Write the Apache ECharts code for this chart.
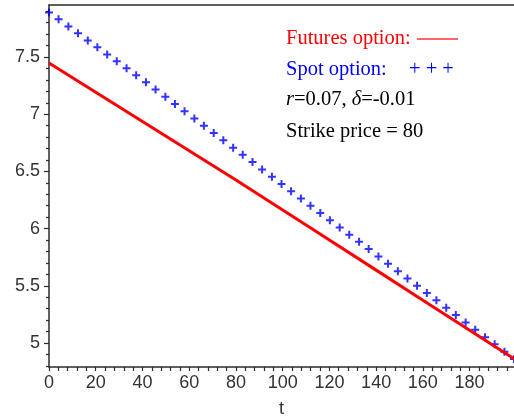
<!DOCTYPE html>
<html>
<head>
<meta charset="utf-8">
<style>
  html, body { margin: 0; padding: 0; background: #fff; }
  #chart { width: 514px; height: 418px; }
</style>
<script src="https://cdn.jsdelivr.net/npm/echarts@6/dist/echarts.min.js"></script>
</head>
<body>
<div id="chart"></div>
<script>
// Futures option price: sampled along t
const futuresT = [0, 20, 40, 60, 80, 100, 120, 140, 160, 180, 199];
const futuresPrice = [7.448, 7.192, 6.936, 6.681, 6.425, 6.162, 5.900, 5.637, 5.374, 5.112, 4.862];

// Spot option price: plotted as points
const spotT = [0, 4.1, 8.3, 12.4, 16.6, 20.7, 24.9, 29.0, 33.2, 37.3, 41.5, 45.6, 49.8, 53.9, 58.0,
  62.2, 66.3, 70.5, 74.6, 78.8, 82.9, 87.1, 91.2, 95.4, 99.5, 103.6, 107.8, 111.9, 116.1, 120.2,
  124.4, 128.5, 132.7, 136.8, 141.0, 145.1, 149.3, 153.4, 157.5, 161.7, 165.8, 170.0, 174.1,
  178.3, 182.4, 186.6, 190.7, 194.9, 199.0];
const spotPrice = [7.890, 7.830, 7.768, 7.707, 7.645, 7.585, 7.523, 7.463, 7.401, 7.341, 7.279,
  7.216, 7.152, 7.089, 7.026, 6.962, 6.899, 6.835, 6.772, 6.708, 6.645, 6.582, 6.517, 6.453,
  6.390, 6.327, 6.263, 6.200, 6.136, 6.073, 6.009, 5.946, 5.884, 5.821, 5.756, 5.692, 5.627,
  5.564, 5.501, 5.436, 5.373, 5.308, 5.244, 5.180, 5.116, 5.051, 4.988, 4.923, 4.860];

// Axis ticks and labels
const xLabels = [0, 20, 40, 60, 80, 100, 120, 140, 160, 180];
const xTicks = [0, 4, 8, 12, 16, 20, 24, 28, 32, 36, 40, 44, 48, 52, 56, 60, 64, 68, 72, 76, 80,
  84, 88, 92, 96, 100, 104, 108, 112, 116, 120, 124, 128, 132, 136, 140, 144, 148, 152, 156,
  160, 164, 168, 172, 176, 180, 184, 188, 192, 196];
const yLabels = [5, 5.5, 6, 6.5, 7, 7.5];
const yMinorTicks = [4.8, 4.9, 5.1, 5.2, 5.3, 5.4, 5.6, 5.7, 5.8, 5.9, 6.1, 6.2, 6.3, 6.4,
  6.6, 6.7, 6.8, 6.9, 7.1, 7.2, 7.3, 7.4, 7.6, 7.7, 7.8, 7.9];

const X_MIN = 0, X_MAX = 199;
const Y_MIN = 4.79, Y_MAX = 7.955;

const axisColor = '#2b2b2b';
const labelFont = { fontFamily: 'Liberation Sans', fontSize: 18, color: '#333' };
const serif = 'Liberation Serif';
const noteFont = '20.5px "' + serif + '"';

const chart = echarts.init(document.getElementById('chart'));

chart.setOption({
  animation: false,
  backgroundColor: '#fff',
  grid: { left: 49, right: 0, top: 5, bottom: 51, containLabel: false, outerBoundsMode: 'none' },
  xAxis: [
    {
      type: 'value', min: X_MIN, max: X_MAX, position: 'bottom',
      name: 't', nameLocation: 'middle', nameGap: 33,
      nameTextStyle: { fontFamily: 'Liberation Sans', fontSize: 18, color: '#333' },
      axisLine: { show: true, lineStyle: { color: axisColor, width: 1.5 } },
      axisTick: { show: true, customValues: xTicks, length: 4, inside: false,
        lineStyle: { color: axisColor, width: 1.2 } },
      axisLabel: { customValues: xLabels, margin: 7, ...labelFont },
      splitLine: { show: false }
    },
    {
      type: 'value', min: X_MIN, max: X_MAX, position: 'top',
      axisLine: { show: true, lineStyle: { color: axisColor, width: 1.5 } },
      axisTick: { show: false }, axisLabel: { show: false }, splitLine: { show: false }
    }
  ],
  yAxis: [
    {
      type: 'value', min: Y_MIN, max: Y_MAX, position: 'left',
      axisLine: { show: true, lineStyle: { color: axisColor, width: 1.5 } },
      axisTick: { show: true, customValues: yLabels, length: 5,
        lineStyle: { color: axisColor, width: 1.2 } },
      axisLabel: { customValues: yLabels, margin: 9, ...labelFont },
      splitLine: { show: false }
    },
    {
      type: 'value', min: Y_MIN, max: Y_MAX, position: 'left',
      axisLine: { show: false },
      axisTick: { show: true, customValues: yMinorTicks, length: 3,
        lineStyle: { color: axisColor, width: 1.2 } },
      axisLabel: { show: false },
      splitLine: { show: false }
    }
  ],
  series: [
    {
      name: 'Futures option', type: 'line',
      data: futuresT.map((t, i) => [t, futuresPrice[i]]),
      showSymbol: false, symbol: 'none', clip: true,
      lineStyle: { color: '#ff0000', width: 3 }
    },
    {
      name: 'Spot option', type: 'scatter',
      data: spotT.map((t, i) => [t, spotPrice[i]]),
      symbol: 'path://M3,0H5V3H8V5H5V8H3V5H0V3H3Z', symbolSize: 8,
      itemStyle: { color: '#0000ff' }, clip: true
    }
  ],
  graphic: [
    { type: 'text', left: 286, top: 28,
      style: { text: 'Futures option:', font: noteFont, fill: '#ff0000' } },
    { type: 'line', shape: { x1: 417, y1: 39, x2: 458, y2: 39 },
      style: { stroke: '#ff3333', lineWidth: 1.6 } },
    { type: 'text', left: 286, top: 59,
      style: { text: 'Spot option:', font: noteFont, fill: '#0000ff' } },
    { type: 'text', left: 409, top: 59,
      style: { text: '+ + +', font: noteFont, fill: '#0000ff' } },
    { type: 'text', left: 286, top: 89,
      style: {
        text: '{i|r}{n|=0.07, }{i|δ}{n|=-0.01}',
        rich: {
          i: { fontFamily: serif, fontSize: 20.5, fontStyle: 'italic', fill: '#000', color: '#000' },
          n: { fontFamily: serif, fontSize: 20.5, fill: '#000', color: '#000' }
        }
      } },
    { type: 'text', left: 286, top: 121,
      style: { text: 'Strike price = 80', font: noteFont, fill: '#000' } }
  ]
});
</script>
</body>
</html>
